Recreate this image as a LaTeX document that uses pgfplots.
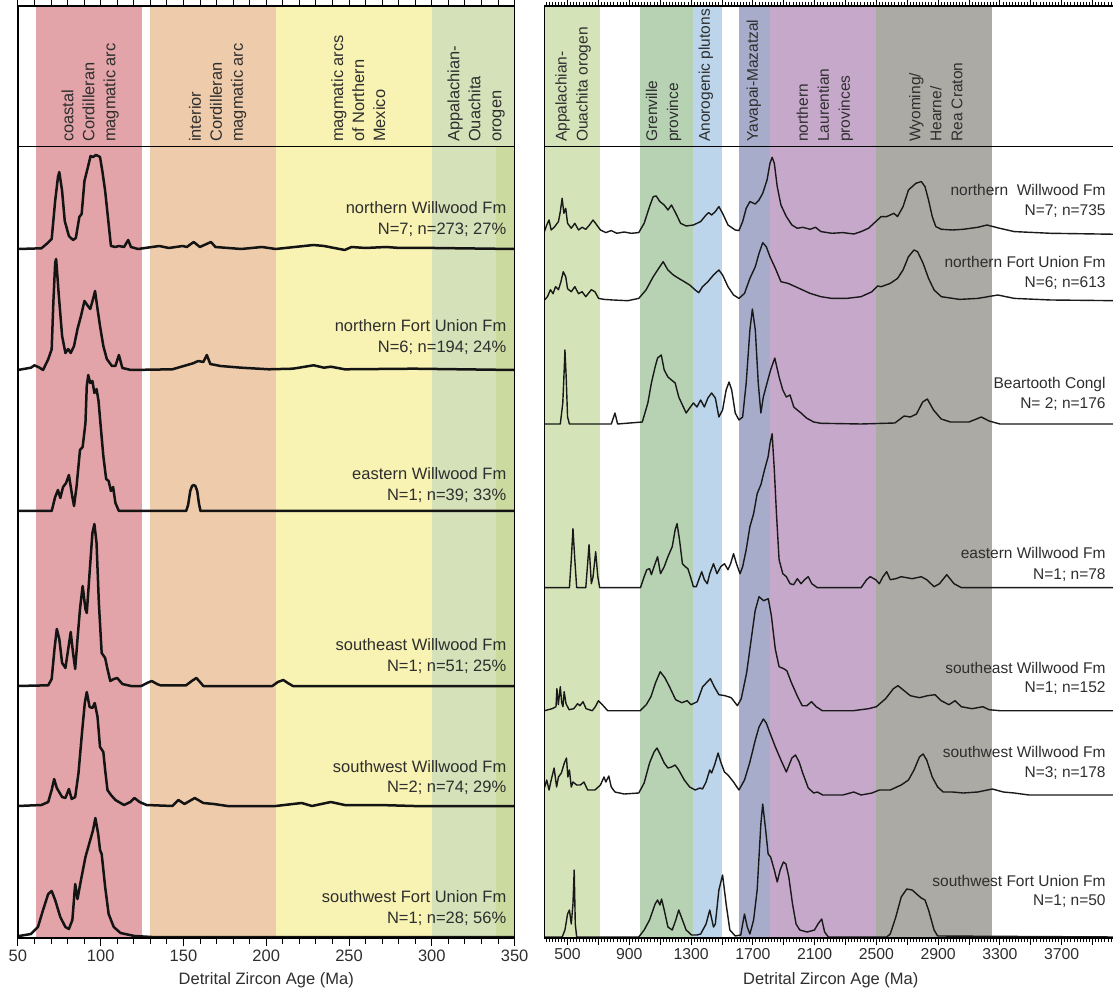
\documentclass[border=0pt]{standalone}
\usepackage{fontspec}
\setmainfont{Liberation Sans}
\usepackage{pgfplots}
\usepackage{pgfplotstable}
\pgfplotsset{compat=1.18}
\definecolor{cCoast}{HTML}{E2A4A8}
\definecolor{cInt}{HTML}{EECBAA}
\definecolor{cMex}{HTML}{F8F3B3}
\definecolor{cApp}{HTML}{D4E1B9}
\definecolor{cStrip}{HTML}{CBDA9E}
\definecolor{cAppR}{HTML}{D5E4B8}
\definecolor{cGren}{HTML}{B6D2B3}
\definecolor{cAno}{HTML}{BCD5EA}
\definecolor{cYav}{HTML}{A8ACCB}
\definecolor{cLau}{HTML}{C6A8CB}
\definecolor{cWyo}{HTML}{ACAAA5}
\definecolor{txt}{HTML}{2E2E2E}

\pgfplotstableread{
x h
50 0
50.6 0
64.2 0.7
67.3 5
70.4 10
72.5 48
74.2 72
75.0 77
76.7 58
78.3 28
80.8 13
83.3 9
85.0 11
87.1 32
88.5 35
90.2 68
92.3 82
93.9 93
95.4 92
97.1 94
98.5 93
99.6 92
101.0 78
102.7 58
104.8 25
106.2 3
108.9 2
111.0 3
114.1 2
116.6 9
118.3 2
122.5 0
135.4 3
141.2 1
149.5 3
152 2
156.2 7
159.9 2
166.6 7
169.3 2
184.9 0
197.4 2
205.7 0
228.6 4
234.9 3
247.4 -1
251.5 2
259.9 1
272.4 2
280.7 1
301.5 1
350 0
}\LnW
\pgfplotstableread{
x h
50 0
57.9 2.3
60.0 4.7
63.1 2.3
65.2 0
68.3 10.7
70.4 20.7
71.4 67
72.5 107
73.1 111
74.6 77
76.7 34
78.7 17
80.4 21
81.9 17
83.9 24
86.0 41
88.1 54
90.2 69
92.3 64
93.7 61
95.4 71
96.6 79
98.1 61
99.6 44
101.6 24
103.7 11
106.8 4
108.9 4
111.0 15
113.1 2
118.3 0
143.3 0.7
155.8 6.7
158.9 9
162.0 8
164.1 15
166.2 6
172.4 4
184.9 2.3
201.6 0.7
216.1 1.3
228.6 4.7
234.9 2.3
239.0 3.3
247.4 0.7
289.0 1.3
350 0
}\LnFU
\pgfplotstableread{
x h
50 0
70.4 0
72.5 14
74.2 21
75.6 13
77.3 24
79.1 28
80.8 36
82.9 14
83.9 5
85.4 24
87.5 61
89.1 64
90.8 88
91.6 125
92.5 136
93.7 128
95.0 130
96.2 118
97.5 122
98.7 110
100.0 85
101.6 55
103.3 32
104.8 30
106.2 20
107.5 24
108.9 8
111.0 0
151.6 0
152.8 6
154.1 20
155.2 25
156.2 26
157.2 25
158.3 20
159.4 7
160.3 0
350 0
}\LeW
\pgfplotstableread{
x h
50 0
68.3 0.7
70.4 7
72.1 37
73.5 57
75.0 47
76.7 23
78.7 18
80.4 37
81.9 54
83.3 33
84.6 17
86.0 47
87.5 77
89.1 100
90.8 77
91.6 73
93.3 113
95.0 153
96.2 162
97.5 143
98.9 83
100.6 33
102.7 28
104.1 17
105.8 5
107.9 7
110.0 8
113.1 2
118.3 0
124.5 0
128 3
130.8 5
134 2
136.0 0.7
151.6 0.7
155 5
157.8 8
160.5 3
162.0 0
203.7 0
207 4
210.3 6
213 3
216.1 0
350 0
}\LSE
\pgfplotstableread{
x h
50 0
64.2 1
68.3 4
70.4 16
71.9 27
73.5 18
76.7 9
78.7 8
80.8 17
82.5 7
84.6 9
86.6 33
88.7 73
90.4 103
91.6 114
93.3 99
95.0 98
96.4 103
98.1 89
99.6 59
101.6 54
102.7 36
104.1 16
106.2 11
108.9 6
114.1 1
117.9 4
120.4 8
123.5 4
127.7 1
143.3 0
147.0 6
150.6 2
156.8 8
162.0 3
168.3 2
176.6 0
205.7 0
221.4 3
227.6 0
239.0 4
247.4 1
268.2 1
289.0 0
350 0
}\LSWW
\pgfplotstableread{
x h
50 0
50.6 1
57.9 3
62.1 10
65.2 27
68.3 43
70.4 46
72.5 37
75.6 20
78.7 10
80.8 8
82.9 17
84.6 53
86.0 38
88.1 57
90.8 80
93.7 97
95.4 107
96.8 119
98.5 103
99.6 87
100.6 83
102.7 50
104.8 23
107.9 10
112.0 4
120.4 1
130.8 0
350 0
}\LSWFU

\pgfplotstableread{
x h
350 2.7
365 9.3
380 14.3
394 4.3
417 7.7
441 12.7
453 22.7
465 36
476 21
488 26
500 11
524 6
547 11
571 4.3
594 7
618 5
642 9.3
665 14.3
689 9.3
713 4.3
748 1.7
783 3.7
819 1
866 2.3
913 1
961 1.7
996 11
1031 27.7
1055 37.7
1074 38.3
1098 32.7
1126 29.3
1150 24.3
1173 29.3
1201 21
1232 11
1268 8.3
1315 9.3
1362 12.7
1397 19.3
1414 21.7
1433 19.3
1457 22.7
1480 27.7
1504 21
1539 9.3
1586 4.3
1610 3.7
1634 12.7
1657 26
1681 32.7
1716 30.3
1740 34.3
1764 41
1792 54.3
1811 71
1825 77
1839 71
1858 47.7
1882 29.3
1917 17.7
1953 9.3
1988 6
2023 7
2071 5
2106 7
2141 2.7
2212 1
2283 1.7
2354 0.3
2401 2.7
2449 6
2496 12.7
2531 17.7
2567 17.7
2590 19.3
2614 21
2637 17.7
2673 27.7
2708 44.3
2756 51
2791 52.7
2815 47.7
2838 34.3
2862 17.7
2885 7.7
2921 5
2992 4.3
3063 5
3157 7
3216 9.3
3299 6
3393 2.7
3629 1
4060 0
}\RnW
\pgfplotstableread{
x h
350 0.7
370 4
389 11
406 7
422 14
441 11
457 19
472 29
488 24
500 12
524 9
547 14
571 7
594 9
618 4
654 11
677 9
701 2.3
736 1.3
795 0.7
890 0
961 2.3
1008 10.7
1055 24
1090 32.3
1119 39
1150 30.7
1185 25.7
1220 22.3
1256 19
1291 15.7
1327 10.7
1350 8
1374 14
1409 19
1445 25.7
1480 30.7
1504 25.7
1539 14
1575 5.7
1610 2.3
1646 7.3
1681 22.3
1716 34
1740 47.3
1764 58
1787 54
1811 44
1846 32.3
1882 19
1929 17.3
1976 14
2023 10.7
2071 7.3
2141 4
2212 2.3
2307 2.3
2401 4
2472 9
2508 14.7
2531 14
2590 17.3
2637 22.3
2673 30.7
2708 44
2744 50.7
2767 49
2803 37.3
2838 22.3
2874 10.7
2921 4
3039 1.3
3157 2.3
3287 5.7
3393 2.3
3629 0.7
4060 0
}\RnFU
\pgfplotstableread{
x h
350 0
453 0
469 21
479 57
483 74
491 47
500 7
512 0
783 0
807 11
824 0
984 2
1020 21
1043 41
1067 57
1083 66
1107 69
1126 54
1150 47
1173 44
1197 41
1220 27
1244 19
1268 11
1291 16
1315 21
1338 17
1362 24
1386 17
1409 26
1433 31
1457 26
1480 7
1504 14
1527 34
1546 42
1563 34
1586 11
1610 4
1634 7
1657 41
1681 94
1697 115
1716 94
1735 41
1752 11
1768 27
1792 41
1815 54
1842 66
1870 47
1894 34
1917 27
1941 29
1965 17
1988 14
2012 11
2047 6
2094 2
2141 0.7
2400 0
2620 1
2680 8
2720 7
2760 10
2800 22
2830 25
2870 14
2920 5
2980 2
3100 2
3180 7
3230 3
3300 0
4060 0
}\RBT
\pgfplotstableread{
x h
350 0
512 0
524 28
535 59
547 28
559 0
618 0
630 24
639 43
654 4
665 11
682 36
696 11
708 0
972 0
996 11
1013 18
1031 19
1043 13
1060 21
1083 31
1102 14
1126 21
1150 31
1178 41
1197 58
1209 64
1225 48
1244 24
1263 21
1279 19
1296 11
1315 1
1334 1
1350 8
1369 16
1386 8
1405 4
1421 14
1445 24
1468 14
1492 21
1516 24
1539 18
1556 24
1575 34
1594 24
1617 14
1634 21
1657 38
1681 61
1705 74
1728 94
1752 103
1776 118
1799 131
1811 144
1825 154
1839 118
1853 74
1870 28
1894 14
1917 11
1941 4
1964 3
1988 9
2012 4
2035 8
2059 11
2082 4
2118 0
2401 0
2437 8
2460 11
2496 8
2519 4
2543 11
2567 16
2590 8
2626 9
2661 11
2732 9
2791 11
2826 8
2874 1
2909 4
2956 13
3003 4
3051 0
4060 0
}\ReW
\pgfplotstableread{
x h
350 0
400 2
425 4
431 22
440 6
453 24
462 8
470 4
478 19
490 7
510 1
540 2
565 7
580 5
600 9
620 2
660 0
680 4
700 10
725 6
760 0
970 0
1010 6
1040 14
1070 28
1100 39
1130 33
1160 24
1200 11
1240 8
1275 10
1300 6
1340 9
1375 24
1400 28
1425 32
1450 24
1480 16
1520 15
1560 13
1600 5
1625 12
1660 38
1690 72
1715 100
1740 114
1770 110
1800 112
1820 95
1845 62
1870 44
1900 42
1920 40
1950 28
1990 14
2020 5
2050 5
2080 9
2110 4
2150 0
2350 0
2400 1
2450 2
2500 4
2560 12
2610 22
2640 25
2680 20
2720 15
2780 13
2830 15
2880 16
2920 10
2970 6
3010 10
3050 4
3120 2
3190 4
3230 1
3300 0
4060 0
}\RSE
\pgfplotstableread{
x h
350 7
365 15
380 5
394 15
413 27
429 8
441 18
460 22
479 32
493 37
502 18
512 25
524 8
535 13
559 10
583 10
606 13
630 5
677 5
713 10
736 18
748 13
767 19
783 8
807 3
866 1
961 2
996 12
1031 32
1060 43
1079 47
1102 40
1126 32
1150 27
1173 28
1197 30
1220 25
1256 15
1291 8
1327 5
1357 7
1374 6
1397 13
1421 25
1433 22
1452 30
1475 42
1492 33
1516 23
1539 20
1575 13
1610 5
1646 15
1681 33
1716 55
1740 68
1768 76
1787 72
1811 62
1846 48
1882 35
1917 23
1953 37
1976 40
2000 33
2023 22
2059 7
2094 2
2118 3
2153 0
2283 0
2354 3
2401 0
2472 2
2519 5
2590 5
2661 10
2708 15
2744 25
2779 38
2803 41
2826 35
2862 18
2897 8
2933 3
2992 3
3063 2
3157 3
3251 6
3322 3
3393 2
3488 0
4060 0
}\RSWW
\pgfplotstableread{
x h
350 0
465 0
483 7
500 23
512 27
524 13
535 33
543 67
550 13
559 0
961 0
996 7
1031 17
1067 33
1083 37
1098 32
1109 38
1126 27
1150 10
1178 7
1201 17
1220 27
1244 17
1268 7
1303 2
1338 2
1362 3
1397 13
1421 27
1445 10
1457 13
1480 47
1504 62
1527 33
1551 7
1586 1
1622 2
1634 13
1646 23
1664 10
1681 3
1705 17
1728 47
1752 113
1764 133
1783 107
1799 83
1815 80
1839 67
1858 55
1877 67
1898 75
1914 73
1933 60
1957 33
1980 13
2004 7
2052 5
2099 7
2122 13
2146 18
2165 5
2189 0
2567 0
2590 3
2626 20
2661 40
2697 48
2732 47
2768 42
2791 39
2815 37
2838 27
2874 7
2897 1
4060 0
}\RSWFU

\pgfplotsset{
  Lcurve/.style={black!92, line width=2.5pt, line join=round, line cap=round, no marks},
  Rcurve/.style={black!90, line width=1.4pt, line join=round, line cap=round, no marks},
}

\begin{document}
\begin{tikzpicture}[x=1pt,y=1pt]
\path[use as bounding box] (0,0) rectangle (1113,991);

% ---------------- left panel ----------------
\begin{axis}[at={(17.9pt,53pt)}, anchor=south west, scale only axis,
  width=496.7pt, height=932pt,
  xmin=50, xmax=350, ymin=53, ymax=985,
  ytick=\empty, xtick={50,100,...,350}, minor x tick num=4,
  tick align=outside, major tick length=8pt, minor tick length=6pt,
  every tick/.style={black, line width=1pt},
  axis on top, axis line style={line width=1.3pt},
  /pgf/number format/assume math mode=true,
  ticklabel style={font=\fontsize{16.5}{16.5}\selectfont, text=txt},
  xlabel={Detrital Zircon Age (Ma)},
  xlabel style={at={(0.5,0)}, anchor=center, yshift=-42pt, font=\fontsize{16.5}{16.5}\selectfont, text=txt},
]
\fill[cCoast] (61,53) rectangle (125,985);
\fill[cInt] (130,53) rectangle (206,985);
\fill[cMex] (206,53) rectangle (300,985);
\fill[cApp] (300,53) rectangle (350,985);
\fill[cStrip] (339,53) rectangle (350,844);
\draw[line width=1.3pt] (50,844.3) -- (350,844.3);

\addplot[Lcurve] table[x=x, y expr=\thisrow{h}+742] {\LnW};
\addplot[Lcurve] table[x=x, y expr=\thisrow{h}+621] {\LnFU};
\addplot[Lcurve] table[x=x, y expr=\thisrow{h}+480] {\LeW};
\addplot[Lcurve] table[x=x, y expr=\thisrow{h}+305] {\LSE};
\addplot[Lcurve] table[x=x, y expr=\thisrow{h}+185] {\LSWW};
\addplot[Lcurve] table[x=x, y expr=\thisrow{h}+54] {\LSWFU};

\begin{scope}[every node/.style={rotate=90, anchor=west, align=left, inner sep=0pt, text=txt, font=\fontsize{16.4}{21}\selectfont}]
\node at (93.7,849) {coastal\\Cordilleran\\magmatic arc};
\node at (170.7,849) {interior\\Cordilleran\\magmatic arc};
\node at (255.6,849) {magmatic arcs\\of Northern\\Mexico};
\node at (326.8,849) {Appalachian-\\Ouachita\\orogen};
\end{scope}

\begin{scope}[every node/.style={anchor=base east, inner sep=0pt, text=txt, font=\fontsize{16.5}{16.5}\selectfont}]
\node at (345.1,777.3) {northern Willwood Fm};
\node at (345.1,756.3) {N=7; n=273; 27\%};
\node at (345.1,659.3) {northern Fort Union Fm};
\node at (345.1,638.3) {N=6; n=194; 24\%};
\node at (345.1,511.3) {eastern Willwood Fm};
\node at (345.1,490.3) {N=1; n=39; 33\%};
\node at (345.1,340.3) {southeast Willwood Fm};
\node at (345.1,319.3) {N=1; n=51; 25\%};
\node at (345.1,218.3) {southwest Willwood Fm};
\node at (345.1,198.3) {N=2; n=74; 29\%};
\node at (345.1,88.3) {southwest Fort Union Fm};
\node at (345.1,67.3) {N=1; n=28; 56\%};
\end{scope}
\end{axis}

% ---------------- right panel ----------------
\begin{axis}[at={(544.4pt,53pt)}, anchor=south west, scale only axis,
  width=572.8pt, height=932pt,
  xmin=350, xmax=4060, ymin=53, ymax=985,
  ytick=\empty,
  xtick={500,700,...,3900},
  xticklabels={500,,900,,1300,,1700,,2100,,2500,,2900,,3300,,3700,},
  minor xtick={360,380,...,4040},
  tick align=outside, major tick length=7pt, minor tick length=3.5pt,
  every tick/.style={black, line width=0.9pt},
  axis on top, axis line style={line width=1.3pt},
  ticklabel style={font=\fontsize{15.8}{15.8}\selectfont, text=txt},
  xlabel={Detrital Zircon Age (Ma)},
  xlabel style={at={(0.5,0)}, anchor=center, yshift=-42pt, font=\fontsize{16.5}{16.5}\selectfont, text=txt},
]
\fill[cAppR] (350,53) rectangle (710,985);
\fill[cGren] (970,53) rectangle (1310,985);
\fill[cAno] (1310,53) rectangle (1500,985);
\fill[cYav] (1610,53) rectangle (1810,985);
\fill[cLau] (1810,53) rectangle (2500,985);
\fill[cWyo] (2500,53) rectangle (3250,985);
\draw[line width=1.3pt] (350,844.3) -- (4060,844.3);

\addplot[Rcurve] table[x=x, y expr=\thisrow{h}+756.7] {\RnW};
\addplot[Rcurve] table[x=x, y expr=\thisrow{h}+690.3] {\RnFU};
\addplot[Rcurve] table[x=x, y expr=\thisrow{h}+567] {\RBT};
\addplot[Rcurve] table[x=x, y expr=\thisrow{h}+403.3] {\ReW};
\addplot[Rcurve] table[x=x, y expr=\thisrow{h}+280.3] {\RSE};
\addplot[Rcurve] table[x=x, y expr=\thisrow{h}+196] {\RSWW};
\addplot[Rcurve] table[x=x, y expr=\thisrow{h}+54] {\RSWFU};

\begin{scope}[every node/.style={rotate=90, anchor=west, align=left, inner sep=0pt, text=txt, font=\fontsize{15.5}{21}\selectfont}]
\node at (536,849) {Appalachian-\\Ouachita orogen};
\node at (1122,849) {Grenville\\province};
\node at (1396,849) {Anorogenic plutons};
\node at (1707,849) {Yavapai-Mazatzal};
\node at (2167,849) {northern\\Laurentian\\provinces};
\node at (2886,849) {Wyoming/\\Hearne/\\Rea Craton};
\end{scope}

\begin{scope}[every node/.style={anchor=base east, inner sep=0pt, text=txt, font=\fontsize{15.5}{15.5}\selectfont}]
\node at (3986,795.5) {northern\ \ Willwood Fm};
\node at (3986,775.5) {N=7; n=735};
\node at (3986,723.5) {northern Fort Union Fm};
\node at (3986,703.5) {N=6; n=613};
\node at (3986,602.5) {Beartooth Congl};
\node at (3986,582.5) {N= 2; n=176};
\node at (3986,432.5) {eastern Willwood Fm};
\node at (3986,411.5) {N=1; n=78};
\node at (3986,317.5) {southeast Willwood Fm};
\node at (3986,298.5) {N=1; n=152};
\node at (3986,233.5) {southwest Willwood Fm};
\node at (3986,213.5) {N=3; n=178};
\node at (3986,104.5) {southwest Fort Union Fm};
\node at (3986,85.5) {N=1; n=50};
\end{scope}
\end{axis}
\end{tikzpicture}
\end{document}
